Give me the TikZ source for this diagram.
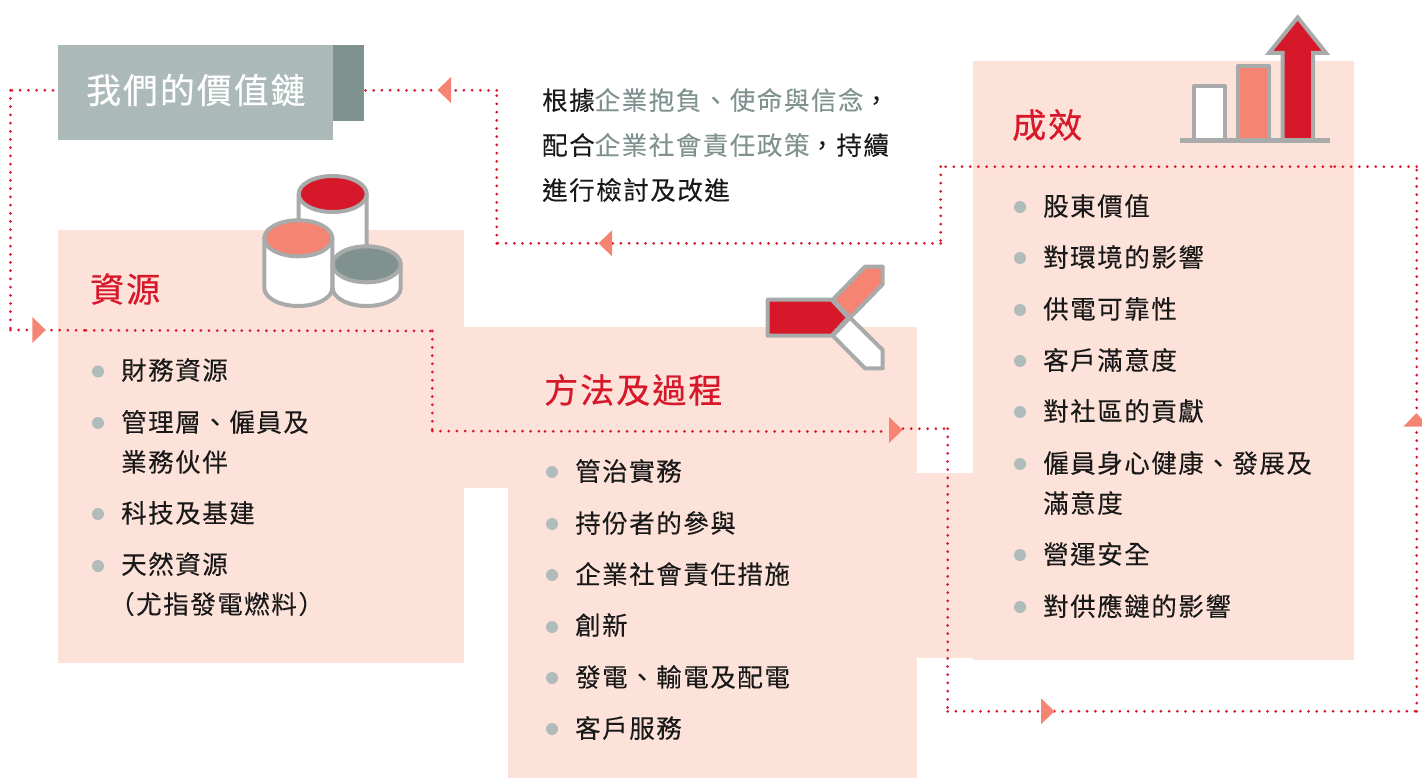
\documentclass[tikz,border=0pt]{standalone}
\usepackage{fontspec}
\setmainfont{Noto Sans CJK TC}[LetterSpace=6,FakeBold=0.15]
\newfontfamily\headfont{Noto Sans CJK TC}[LetterSpace=6,FakeBold=0.5]
\definecolor{pinkbg}{HTML}{FDE2DA}
\definecolor{slate}{HTML}{ABBAB9}
\definecolor{slatedark}{HTML}{80928F}
\definecolor{dotred}{HTML}{D7182A}
\definecolor{salmon}{HTML}{F58473}
\definecolor{icongray}{HTML}{A8ABA9}
\definecolor{bulletgray}{HTML}{B0BCBC}
\tikzset{
  x=1pt,y=-1pt,
  panel/.style={fill=pinkbg},
  dotline/.style={draw=dotred,line width=3pt,line cap=round,dash pattern=on 0pt off 8.2pt},
  tip/.style={fill=salmon},
  iconline/.style={draw=icongray,line width=4pt,line join=round},
  item/.style={anchor=west,inner sep=0pt,font=\fontsize{25.5}{30}\selectfont,text=black!90},
  bulletdot/.style={circle,fill=bulletgray,inner sep=0pt,minimum size=12pt},
  title/.style={anchor=west,inner sep=0pt,font=\headfont\fontsize{34}{40}\selectfont,text=dotred},
  tipright/.pic={\fill[tip] (0,-13)--(13.5,0)--(0,13)--cycle;},
  tipleft/.pic={\fill[tip] (0,-13)--(-13.5,0)--(0,13)--cycle;},
  tipup/.pic={\fill[tip] (-13,0)--(0,-13.5)--(13,0)--cycle;},
}
\newcommand{\cyl}[4]{%
  \filldraw[iconline,fill=white] (#1-34,#2) -- (#1-34,#3) arc[start angle=180,end angle=360,x radius=34,y radius=-18] -- (#1+34,#2) -- cycle;
  \filldraw[iconline,fill=#4] (#1,#2) ellipse[x radius=34,y radius=18];}
\begin{document}
\begin{tikzpicture}
\clip (0,0) rectangle (1422,778);
% panels
\fill[panel] (58,230) rectangle (464,663);
\fill[panel] (464,327) rectangle (508,488);
\fill[panel] (508,327) rectangle (917,778);
\fill[panel] (917,473) rectangle (973,658);
\fill[panel] (973,61) rectangle (1354,660);
% header
\fill[slatedark] (333,45) rectangle (364,121);
\fill[slate] (58,45) rectangle (333,140);
\node[anchor=west,inner sep=0pt,text=white,font=\headfont\fontsize{34.8}{40}\selectfont] (hdr) at (86,90) {我們的價值鏈};
% icon: cylinders
\cyl{332.7}{194}{250}{dotred}
\cyl{298.3}{238.3}{288}{salmon}
\cyl{366.7}{264.3}{288}{slatedark}
% icon: signpost
\filldraw[iconline,fill=salmon] (832.7,299.7)--(865,266.7)--(882.7,266.7)--(882.7,284.3)--(850,317.7)--cycle;
\filldraw[iconline,fill=white] (832.7,335.7)--(850,317.7)--(882.7,350)--(882.7,368.3)--(865,368.3)--cycle;
\filldraw[iconline,fill=dotred] (767.7,299.7)--(831.7,299.7)--(848.3,317.7)--(831.7,335.7)--(767.7,335.7)--cycle;
% icon: bars
\filldraw[iconline,fill=white] (1194,140.5)--(1194,86)--(1225,86)--(1225,140.5);
\filldraw[iconline,fill=salmon] (1237.6,140.5)--(1237.6,66)--(1269.3,66)--(1269.3,140.5);
\filldraw[iconline,fill=dotred,line join=miter] (1282.5,140.5)--(1282.5,53)--(1269,53)--(1297.7,17.5)--(1326,53)--(1313,53)--(1313,140.5);
\draw[icongray,line width=4.4pt] (1180,140.5)--(1330,140.5);
% connector waypoints
\coordinate (hw) at (53,90.3);
\coordinate (c1) at (10.5,90.3);
\coordinate (c2) at (10.5,330);
\coordinate (c2b) at (86,330.3);
\coordinate (c3) at (432.3,331);
\coordinate (c4) at (432.3,431);
\coordinate (c4b) at (545,431.3);
\coordinate (a2) at (889,431.5);
\coordinate (a2b) at (903,428.7);
\coordinate (c5) at (947.7,428.7);
\coordinate (c6) at (947.7,711.3);
\coordinate (c7) at (1416.7,711.3);
\coordinate (c8) at (1416.7,166.7);
\coordinate (c8b) at (1331,166.7);
\coordinate (c9) at (940.7,166.7);
\coordinate (c10) at (940.7,243.3);
\coordinate (c11) at (496.7,243.3);
\coordinate (c12) at (496.7,90.3);
\coordinate (he) at (364,90.3);
\foreach \p/\q in {hw/c1,c1/c2,c2/c2b,c2b/c3,c3/c4,c4/c4b,c4b/a2,a2b/c5,c5/c6,c6/c7,c7/c8,c8/c8b,c8b/c9,c9/c10,c10/c11,c11/c12,c12/he}
  \draw[dotline] (\p)--(\q);
% arrow tips
\pic at (32.3,330) {tipright};
\pic at (889,430) {tipright};
\pic at (1041,711.3) {tipright};
\pic at (1416.3,426.7) {tipup};
\pic at (612,243.3) {tipleft};
\pic at (451,90) {tipleft};
% note text
\node[item] (n1) at (542,100) {根據\textcolor{slatedark}{企業抱負、使命與信念}，};
\node[item] (n2) at (542,145) {配合\textcolor{slatedark}{企業社會責任政策}，持續};
\node[item] (n3) at (542,190) {進行檢討及改進};
% resources
\node[title] (t1) at (90,289) {資源};
\node[bulletdot] (b1) at (98,371.5) {};
\node[item] (r1) at (121,370) {財務資源};
\node[bulletdot] (b2) at (98,423) {};
\node[item] (r2) at (121,422) {管理層、僱員及};
\node[item] (r2b) at (121,462) {業務伙伴};
\node[bulletdot] (b3) at (98,514) {};
\node[item] (r3) at (121,513) {科技及基建};
\node[bulletdot] (b4) at (98,566) {};
\node[item] (r4) at (121,564) {天然資源};
\node[item] (r4b) at (109,604) {（尤指發電燃料）};
% methods
\node[title] (t2) at (544,390) {方法及過程};
\node[bulletdot] (m1b) at (552,472) {};
\node[item] (m1) at (575,471) {管治實務};
\node[bulletdot] (m2b) at (552,524) {};
\node[item] (m2) at (575,523) {持份者的參與};
\node[bulletdot] (m3b) at (552,575) {};
\node[item] (m3) at (575,574) {企業社會責任措施};
\node[bulletdot] (m4b) at (552,627) {};
\node[item] (m4) at (575,625) {創新};
\node[bulletdot] (m5b) at (552,678) {};
\node[item] (m5) at (575,677) {發電、輸電及配電};
\node[bulletdot] (m6b) at (552,729) {};
\node[item] (m6) at (575,728) {客戶服務};
% outcomes
\node[title] (t3) at (1012,125) {成效};
\node[bulletdot] (o1b) at (1020,207) {};
\node[item] (o1) at (1043,206) {股東價值};
\node[bulletdot] (o2b) at (1020,258) {};
\node[item] (o2) at (1043,257) {對環境的影響};
\node[bulletdot] (o3b) at (1020,310) {};
\node[item] (o3) at (1043,309) {供電可靠性};
\node[bulletdot] (o4b) at (1020,361) {};
\node[item] (o4) at (1043,360) {客戶滿意度};
\node[bulletdot] (o5b) at (1020,412) {};
\node[item] (o5) at (1043,411) {對社區的貢獻};
\node[bulletdot] (o6b) at (1020,464) {};
\node[item] (o6) at (1043,463) {僱員身心健康、發展及};
\node[item] (o6c) at (1043,503) {滿意度};
\node[bulletdot] (o7b) at (1020,555) {};
\node[item] (o7) at (1043,554) {營運安全};
\node[bulletdot] (o8b) at (1020,607) {};
\node[item] (o8) at (1043,606) {對供應鏈的影響};
\end{tikzpicture}
\end{document}
